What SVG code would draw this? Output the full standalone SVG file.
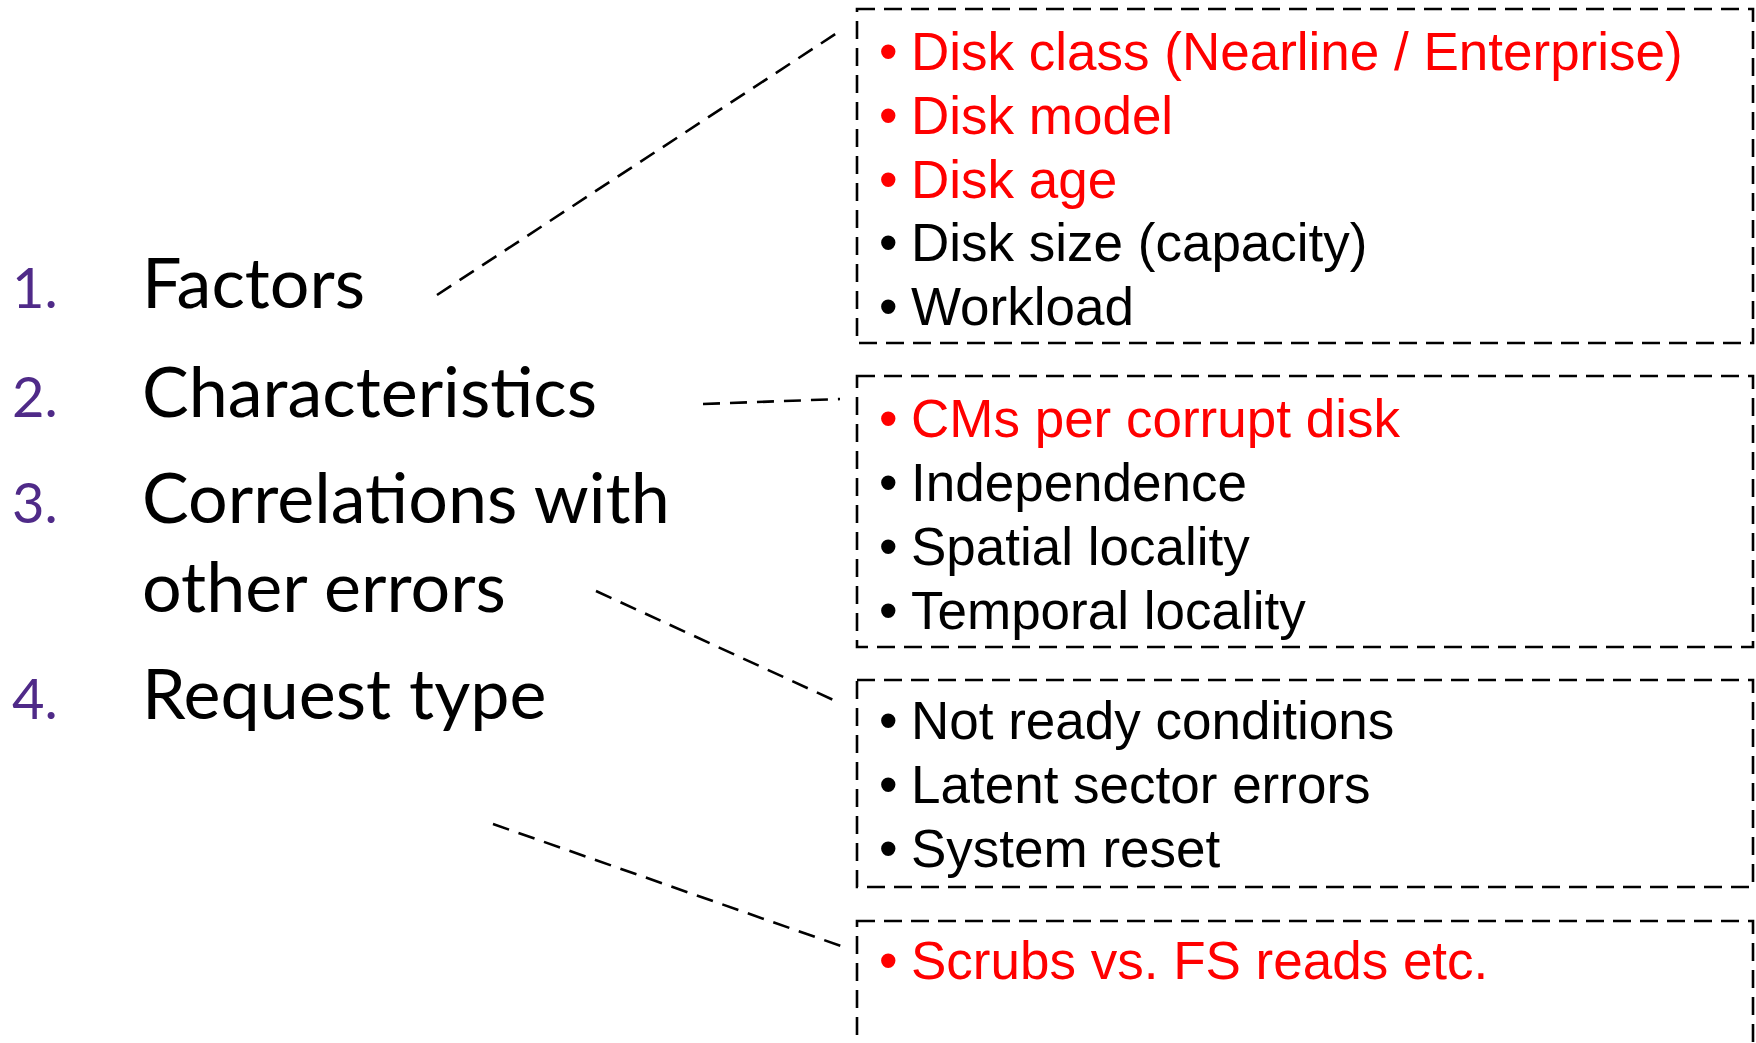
<svg xmlns="http://www.w3.org/2000/svg" width="1756" height="1043" viewBox="0 0 1756 1043">
<style>
.bg{fill:#ffffff}
.box{fill:none;stroke:#000;stroke-width:2.6;stroke-dasharray:18 9}
.conn{fill:none;stroke:#000;stroke-width:2.6;stroke-dasharray:17 10}
.num{font-family:Lato,"Open Sans",sans-serif;font-size:56px;fill:#4F2A88}
.head{font-family:Lato,"Open Sans",sans-serif;font-size:70px;fill:#000}
.item{font-family:"Liberation Sans",Arial,sans-serif;font-size:53px}
.red{fill:#FF0000}
.blk{fill:#000}
</style>
<rect class="bg" x="0" y="0" width="1756" height="1043"/>
<g id="list">
  <text class="num" x="12" y="308">1.</text>
  <text class="head" x="142" y="308">Factors</text>
  <text class="num" x="12" y="417">2.</text>
  <text class="head" x="142" y="417">Characteristics</text>
  <text class="num" x="12" y="523">3.</text>
  <text class="head" x="142" y="523">Correlations with</text>
  <text class="head" x="142" y="612">other errors</text>
  <text class="num" x="12" y="719">4.</text>
  <text class="head" x="142" y="719">Request type</text>
</g>
<g id="connectors">
  <line class="conn" x1="437" y1="295" x2="840" y2="31"/>
  <line class="conn" x1="703" y1="404" x2="840" y2="399"/>
  <line class="conn" x1="596" y1="591" x2="840" y2="703"/>
  <line class="conn" x1="493" y1="824" x2="841" y2="946"/>
</g>
<g id="box-factors">
  <rect class="box" x="857" y="9" width="896" height="334"/>
  <text class="item red" y="70"><tspan x="879">•</tspan><tspan x="911">Disk class (Nearline / Enterprise)</tspan></text>
  <text class="item red" y="134"><tspan x="879">•</tspan><tspan x="911">Disk model</tspan></text>
  <text class="item red" y="198"><tspan x="879">•</tspan><tspan x="911">Disk age</tspan></text>
  <text class="item blk" y="261"><tspan x="879">•</tspan><tspan x="911">Disk size (capacity)</tspan></text>
  <text class="item blk" y="325"><tspan x="879">•</tspan><tspan x="911">Workload</tspan></text>
</g>
<g id="box-characteristics">
  <rect class="box" x="857" y="376" width="896" height="271"/>
  <text class="item red" y="437"><tspan x="879">•</tspan><tspan x="911">CMs per corrupt disk</tspan></text>
  <text class="item blk" y="501"><tspan x="879">•</tspan><tspan x="911">Independence</tspan></text>
  <text class="item blk" y="565"><tspan x="879">•</tspan><tspan x="911">Spatial locality</tspan></text>
  <text class="item blk" y="629"><tspan x="879">•</tspan><tspan x="911">Temporal locality</tspan></text>
</g>
<g id="box-correlations">
  <rect class="box" x="857" y="680" width="896" height="207"/>
  <text class="item blk" y="739"><tspan x="879">•</tspan><tspan x="911">Not ready conditions</tspan></text>
  <text class="item blk" y="803"><tspan x="879">•</tspan><tspan x="911">Latent sector errors</tspan></text>
  <text class="item blk" y="867"><tspan x="879">•</tspan><tspan x="911">System reset</tspan></text>
</g>
<g id="box-request">
  <rect class="box" x="857" y="921" width="896" height="160"/>
  <text class="item red" y="979"><tspan x="879">•</tspan><tspan x="911">Scrubs vs. FS reads etc.</tspan></text>
</g>
</svg>
